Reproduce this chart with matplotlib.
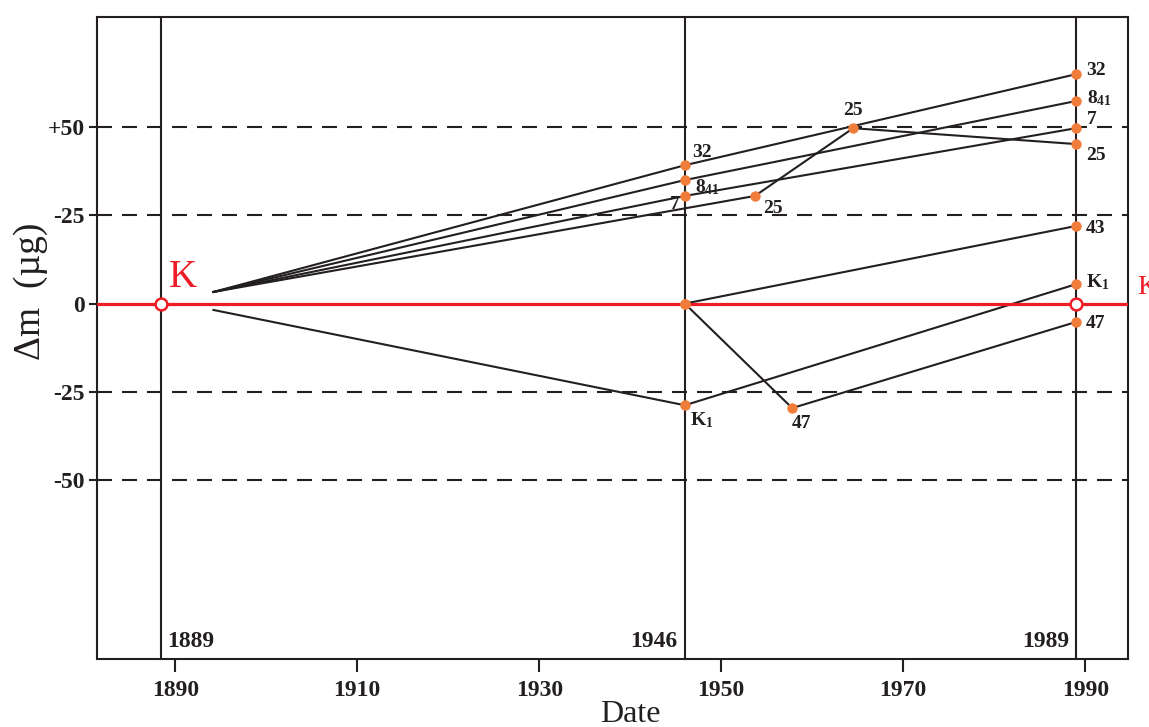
import matplotlib
matplotlib.use("Agg")
import matplotlib.pyplot as plt
import matplotlib.transforms as mtransforms

# mass change (micrograms) of the prototype copies relative to K
dates_32 = [1894.2, 1946, 1989]
dm_32 = [3.3, 39.2, 65.0]
dates_841 = [1894.2, 1946, 1989]
dm_841 = [3.3, 35.0, 57.4]
dates_7 = [1894.2, 1946, 1989]
dm_7 = [3.3, 30.5, 49.7]
dates_25 = [1894.2, 1953.7, 1964.5, 1989]
dm_25 = [3.3, 30.5, 49.7, 45.2]
dates_k1 = [1894.2, 1946, 1989]
dm_k1 = [-1.8, -28.8, 5.5]
dates_43 = [1946, 1989]
dm_43 = [0.0, 22.0]
dates_47 = [1946, 1957.8, 1989]
dm_47 = [0.0, -29.6, -5.2]

verif_years = [1888.4, 1946, 1989]
verif_labels = ['1889', '1946', '1989']
kappa_dates = [1888.4, 1989]
kappa_dm = [0.0, 0.0]

xticks = [1890, 1910, 1930, 1950, 1970, 1990]
yticks = [50, 25, 0, -25, -50]
ytick_labels = ['+50', '-25', '0', '-25', '-50']
grid_levels = [50, 25, -25, -50]

# point labels: (x, y, text)
point_labels = [
    (1946, 39.2, '32'), (1946, 35.0, '8$_{41}$'), (1946, 30.5, '7'),
    (1953.7, 30.5, '25'), (1964.5, 49.7, '25'), (1946, -28.8, 'K$_1$'),
    (1957.8, -29.6, '47'),
    (1989, 65.0, '32'), (1989, 57.4, '8$_{41}$'), (1989, 49.7, '7'),
    (1989, 45.2, '25'), (1989, 22.0, '43'), (1989, 5.5, 'K$_1$'),
    (1989, -5.2, '47'),
]
# label offsets in points and alignment
label_style = [
    (5, 9, 'left'), (7, -5, 'left'), (-3.5, -6.5, 'right'),
    (6, -9, 'left'), (0, 13, 'center'), (4, -11, 'left'),
    (0, -11, 'left'),
    (7, 3, 'left'), (8, 2, 'left'), (8, 6.5, 'left'),
    (7, -8, 'left'), (7, -1.5, 'left'), (7, 1.5, 'left'),
    (7, -1, 'left'),
]

ink = '#231f20'
orange = '#f07d3a'
red = '#ee1c24'
serif = 'Liberation Serif'

plt.rcParams['font.family'] = serif
plt.rcParams['mathtext.fontset'] = 'custom'
plt.rcParams['mathtext.rm'] = 'Liberation Serif:bold'
plt.rcParams['mathtext.it'] = 'Liberation Serif:bold'
plt.rcParams['mathtext.bf'] = 'Liberation Serif:bold'

fig = plt.figure(figsize=(11.49, 7.27), dpi=100)
ax = fig.add_axes([0.0844, 0.0935, 0.8973, 0.8831])
ax.set_xlim(1881.4, 1994.7)
ax.set_ylim(-100.7, 81.2)

for lvl in grid_levels:
    ax.axhline(lvl, color=ink, lw=1.5, linestyle=(0, (7.2, 4.8)), zorder=1)

for yr in verif_years:
    ax.axvline(yr, color=ink, lw=1.5, zorder=2)

series = [(dates_32, dm_32), (dates_841, dm_841), (dates_7, dm_7), (dates_25, dm_25),
          (dates_k1, dm_k1), (dates_43, dm_43), (dates_47, dm_47)]
for xs, ys in series:
    ax.plot(xs, ys, color=ink, lw=1.5, zorder=3)

ax.axhline(0, color=red, lw=2.3, zorder=4)

for xs, ys in series:
    first = 1 if xs[0] < 1940 else 0
    ax.plot(xs[first:], ys[first:], 'o', color=orange, ms=7.5, mec='none', zorder=5)

ax.plot(kappa_dates, kappa_dm, 'o', color='white', mec=red, mew=1.8, ms=8.5, zorder=6)

for (x, y, txt), (dx, dy, ha) in zip(point_labels, label_style):
    ax.annotate(txt, (x, y), xytext=(dx, dy), textcoords='offset points',
                ha=ha, va='center', fontsize=14, fontweight='bold', color=ink, zorder=7)

trans = mtransforms.blended_transform_factory(ax.transData, ax.transAxes)
for yr, lab in zip(verif_years, verif_labels):
    if lab == '1889':
        ax.text(yr + 0.7, 0.028, lab, transform=trans, ha='left', va='center',
                fontsize=17, fontweight='bold', color=ink)
    else:
        ax.text(yr - 0.8, 0.028, lab, transform=trans, ha='right', va='center',
                fontsize=17, fontweight='bold', color=ink)

ax.text(1890.8, 7.5, 'K', color=red, fontsize=28, ha='center', va='center')
ax.text(1.0085, 0.578, 'K', transform=ax.transAxes, color=red, fontsize=20,
        ha='left', va='center', clip_on=False)

ax.set_xticks(xticks)
ax.set_xticklabels([str(t) for t in xticks], fontsize=17, fontweight='bold', color=ink)
ax.set_yticks(yticks)
ax.set_yticklabels(ytick_labels, fontsize=17, fontweight='bold', color=ink)
ax.tick_params(axis='x', direction='out', length=9, width=1.5, color=ink, pad=6)
ax.tick_params(axis='y', direction='out', length=6, width=1.5, color=ink, pad=3)
for sp in ax.spines.values():
    sp.set_linewidth(1.5)
    sp.set_color(ink)

ax.set_ylabel('Δm  (µg)', fontsize=27, color=ink)
ax.yaxis.set_label_coords(-0.0475, 0.572)
ax.set_xlabel('Date', fontsize=23, color=ink)
ax.xaxis.set_label_coords(0.517, -0.064)

fig.savefig('out.png', dpi=100)
